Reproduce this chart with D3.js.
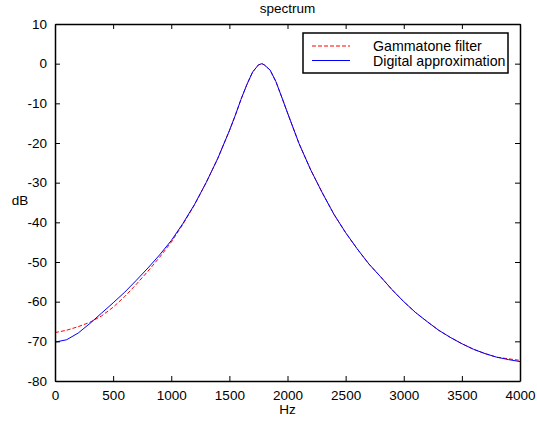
<!DOCTYPE html>
<html><head><meta charset="utf-8">
<script src="https://cdn.jsdelivr.net/npm/d3@7"></script>
<style>body{margin:0;background:#fff}svg{display:block;font-family:"Liberation Sans",Arial,sans-serif}</style>
</head><body><svg id="c" width="537" height="421"></svg>
<script>
const freqs = [0,100,200,300,400,500,600,700,800,900,1000,1100,1200,1300,1400,1500,1550,1600,1650,1700,1750,1780,1800,1850,1900,1950,2000,2100,2200,2300,2400,2500,2600,2700,2800,2900,3000,3100,3200,3300,3400,3500,3600,3700,3800,3900,4000];
const gammatone = [-67.8,-67.2,-66.3,-65.2,-63.6,-61.4,-58.7,-55.6,-52.3,-48.8,-45.0,-40.5,-35.6,-30.0,-23.9,-16.9,-13.1,-9.0,-5.3,-2.1,-0.3,0.0,-0.3,-1.6,-4.5,-8.4,-12.4,-20.2,-26.8,-32.6,-38.0,-42.6,-46.7,-50.5,-53.7,-57.0,-60.0,-62.7,-65.0,-67.2,-69.0,-70.6,-72.0,-73.1,-74.0,-74.4,-74.8];
const digital = [-70.2,-69.6,-67.9,-65.5,-62.9,-60.3,-57.6,-54.6,-51.5,-48.2,-44.6,-40.3,-35.5,-30.0,-23.9,-16.9,-13.1,-9.0,-5.3,-2.1,-0.3,0.0,-0.3,-1.6,-4.5,-8.4,-12.4,-20.2,-26.8,-32.6,-38.0,-42.6,-46.7,-50.5,-53.7,-57.0,-60.0,-62.7,-65.0,-67.2,-69.0,-70.6,-72.0,-73.1,-74.0,-74.6,-75.1];
const xTicks = [0,500,1000,1500,2000,2500,3000,3500,4000];
const yTicks = [10,0,-10,-20,-30,-40,-50,-60,-70,-80];
const seriesNames = ["Gammatone filter","Digital approximation"];
const seriesColors = ["#ff0000","#0000ff"];

const L=55,R=520,T=24,B=381;
const svg=d3.select("#c");
const x=d3.scaleLinear().domain([0,4000]).range([L,R]);
const y=d3.scaleLinear().domain([-80,10]).range([B,T]);

const line=d3.line().x(d=>x(d[0])).y(d=>y(d[1]));
svg.append("path").datum(freqs.map((f,i)=>[f,gammatone[i]])).attr("d",line)
  .attr("fill","none").attr("stroke",seriesColors[0]).attr("stroke-width",1).attr("stroke-dasharray","4,2");
svg.append("path").datum(freqs.map((f,i)=>[f,digital[i]])).attr("d",line)
  .attr("fill","none").attr("stroke",seriesColors[1]).attr("stroke-width",1);

const fs=13.5;
const fmt=d=>String(d);
const gb=svg.append("g").attr("transform",`translate(0,${B})`).call(d3.axisBottom(x).tickValues(xTicks).tickSize(-5).tickPadding(9).tickSizeOuter(0).tickFormat(fmt));
const gt=svg.append("g").attr("transform",`translate(0,${T})`).call(d3.axisTop(x).tickValues(xTicks).tickSize(-5).tickFormat("").tickSizeOuter(0));
const gl=svg.append("g").attr("transform",`translate(${L},0)`).call(d3.axisLeft(y).tickValues(yTicks).tickSize(-5).tickPadding(8).tickSizeOuter(0).tickFormat(fmt));
const gr=svg.append("g").attr("transform",`translate(${R},0)`).call(d3.axisRight(y).tickValues(yTicks).tickSize(-5).tickFormat("").tickSizeOuter(0));
[gb,gt,gl,gr].forEach(g=>{
  g.selectAll(".domain").attr("stroke","#000").attr("stroke-width",1.5);
  g.selectAll(".tick line").attr("stroke","#000").attr("stroke-width",1);
  g.selectAll("text").attr("font-size",fs).attr("fill","#000").attr("font-family","Liberation Sans, Arial, sans-serif");
});

svg.append("text").attr("x",(L+R)/2).attr("y",13).attr("text-anchor","middle").attr("font-size",13.5).text("spectrum");
svg.append("text").attr("x",(L+R)/2).attr("y",414).attr("text-anchor","middle").attr("font-size",13.5).text("Hz");
svg.append("text").attr("x",20).attr("y",205).attr("text-anchor","middle").attr("font-size",13.5).text("dB");

const lg=svg.append("g");
lg.append("rect").attr("x",303).attr("y",33).attr("width",205).attr("height",40).attr("fill","#fff").attr("stroke","#000").attr("stroke-width",1.5);
seriesNames.forEach((n,i)=>{
  const yy=46+i*14.5;
  lg.append("line").attr("x1",312).attr("x2",350).attr("y1",yy).attr("y2",yy).attr("stroke",seriesColors[i]).attr("stroke-width",1).attr("stroke-dasharray",i===0?"4,2":null);
  lg.append("text").attr("x",373).attr("y",yy+5).attr("font-size",14.2).text(n);
});
</script></body></html>
